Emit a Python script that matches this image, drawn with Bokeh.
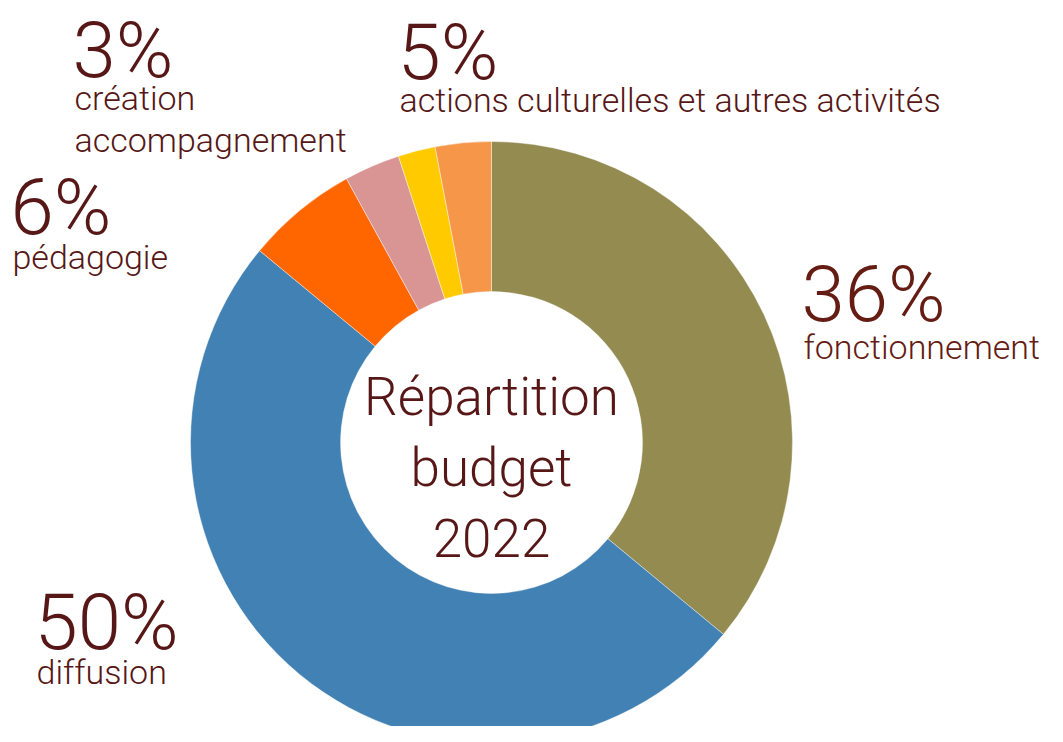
import math
from bokeh.plotting import figure
from bokeh.models import Range1d, ColumnDataSource
from bokeh.core.properties import value
from bokeh.embed import file_html
from bokeh.resources import INLINE

# ---- data ----
categories = ["fonctionnement", "diffusion", "pédagogie", "création accompagnement",
              "actions culturelles", "autres activités"]
values = [36, 50, 6, 3, 2, 3]
colors = ["#938B50", "#4281B3", "#FF6600", "#D89594", "#FFCA00", "#F59648"]

label_pcts = ["36%", "50%", "6%", "3%", "5%"]
label_names = [["fonctionnement"], ["diffusion"], ["pédagogie"],
               ["création", "accompagnement"], ["actions culturelles et autres activités"]]
center_title = ["Répartition", "budget", "2022"]

# ---- layout (pixel coordinates, picture space) ----
W, H = 1047, 726
CX, CY = 491, 442
R_OUT, R_IN = 301, 151
label_pos = [  # x, pct baseline, first name baseline, colour
    (801, 317, 357, "#641C13"),
    (34, 645, 682, "#561716"),
    (10, 230, 267, "#561716"),
    (72, 73, 108, "#561716"),
    (397, 75, 110, "#561716"),
]
NAME_STEP = 42
FONT = value("Roboto Light")
TXT = "#561716"
PCT_SIZE, NAME_SIZE, TITLE_SIZE = 78, 34, 53
BASE_FIX = 0.3  # svg baseline compensation (fraction of font size)

p = figure(width=W, height=H, x_range=Range1d(0, W), y_range=Range1d(-H, 0),
           output_backend="svg", toolbar_location=None, min_border=0)
p.axis.visible = False
p.grid.visible = False
p.outline_line_color = None
p.background_fill_color = "white"
p.border_fill_color = "white"

total = sum(values)
starts, ends = [], []
cum = 0.0
for v in values:
    starts.append(math.pi / 2 - 2 * math.pi * cum / total)
    cum += v
    ends.append(math.pi / 2 - 2 * math.pi * cum / total)

src = ColumnDataSource(dict(x=[CX] * len(values), y=[-CY] * len(values),
                            start=starts, end=ends, color=colors, cat=categories))
p.annular_wedge(x="x", y="y", inner_radius=R_IN, outer_radius=R_OUT,
                start_angle="start", end_angle="end", direction="clock",
                fill_color="color", line_color="white", line_width=0.6, line_alpha=0.7,
                source=src)

# percent labels
p.text(x=[lp[0] for lp in label_pos],
       y=[-(lp[1] - BASE_FIX * PCT_SIZE) for lp in label_pos], text=label_pcts,
       text_font=FONT, text_font_size=f"{PCT_SIZE}px",
       text_color=[lp[3] for lp in label_pos], text_align="left", text_baseline="alphabetic")

# name labels
nx, ny, nt, nc = [], [], [], []
for (x0, _, yb, col), names in zip(label_pos, label_names):
    for i, n in enumerate(names):
        nx.append(x0 + 2)
        ny.append(-(yb + i * NAME_STEP - BASE_FIX * NAME_SIZE))
        nt.append(n)
        nc.append(col)
p.text(x=nx, y=ny, text=nt, text_font=FONT, text_font_size=f"{NAME_SIZE}px",
       text_color=nc, text_align="left", text_baseline="alphabetic")

# center title
p.text(x=[CX] * 3, y=[-(b - BASE_FIX * TITLE_SIZE) for b in (412, 483, 553)],
       text=center_title, text_font=FONT,
       text_font_size=f"{TITLE_SIZE}px", text_color=TXT, text_align="center",
       text_baseline="alphabetic")

open("out.html", "w").write(file_html(p, INLINE))
